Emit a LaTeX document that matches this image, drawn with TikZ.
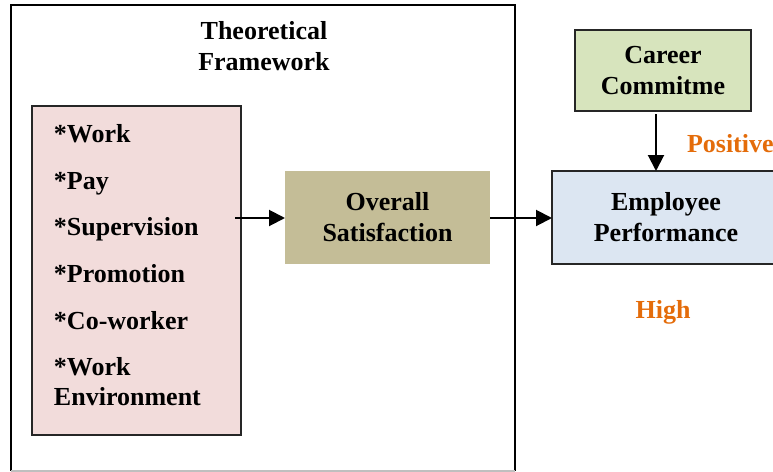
\documentclass[tikz,border=0pt]{standalone}
\usepackage{fontspec}
\setmainfont{Liberation Serif}
\usetikzlibrary{positioning,arrows.meta}

\definecolor{facetpink}{HTML}{F2DCDB}
\definecolor{satistan}{HTML}{C4BD97}
\definecolor{perfblue}{HTML}{DCE6F2}
\definecolor{careergreen}{HTML}{D7E4BD}
\definecolor{notecolor}{HTML}{E46C0A}

\tikzset{
	box/.style={draw=black!85, line width=0.8pt, inner sep=0pt, outer sep=0pt, anchor=north west, align=center},
	item/.style={anchor=base west, inner sep=0pt},
	note/.style={text=notecolor, anchor=base west, inner sep=0pt}
}

\begin{document}
\begin{tikzpicture}[x=0.5pt, y=-0.5pt, ->, >={Triangle[length=8pt,width=8pt]}, line width=1pt,
	font=\fontsize{13}{15.5}\selectfont\bfseries]
	\useasboundingbox (0,0) rectangle (773,472);

	% outer frame
	\draw[-] (11,471) -- (11,5) -- (515,5) -- (515,471);
	\draw[-, gray!50] (11,471) -- (515,471);
	\node[align=center, inner sep=0pt, anchor=base] (title) at (264,70) {Theoretical\\Framework};

	% facets of job satisfaction
	\node[box, fill=facetpink, minimum width=104.5pt, minimum height=164.5pt] (facets) at (32,106) {};
	\foreach \txt/\yy [count=\i] in {*Work/142, *Pay/189, *Supervision/235, *Promotion/282, *Co-worker/329, *Work/375, Environment/405}
		\node[item] (f\i) at (53,\yy) {\txt};

	\node[box, draw=none, fill=satistan, minimum width=102.5pt, minimum height=46.5pt] (overall) at (285,171) {Overall\\Satisfaction};
	\node[box, fill=perfblue, minimum width=114pt, minimum height=46.5pt] (perf) at (552,171) {Employee\\Performance};
	\node[box, fill=careergreen, minimum width=88pt, minimum height=40.5pt] (career) at (575,30) {Career\\Commitme};

	\node[note] (positive) at (686,152) {Positive};
	\node[note, anchor=base] (high) at (663,318) {High};

	\coordinate (start) at (235,218);
	\draw (start) -- (overall.west |- start);
	\draw (overall.east |- start) -- (perf.west |- start);
	\draw ([yshift=-1.5pt]career.south -| 656,0) -- (perf.north -| 656,0);
\end{tikzpicture}
\end{document}
